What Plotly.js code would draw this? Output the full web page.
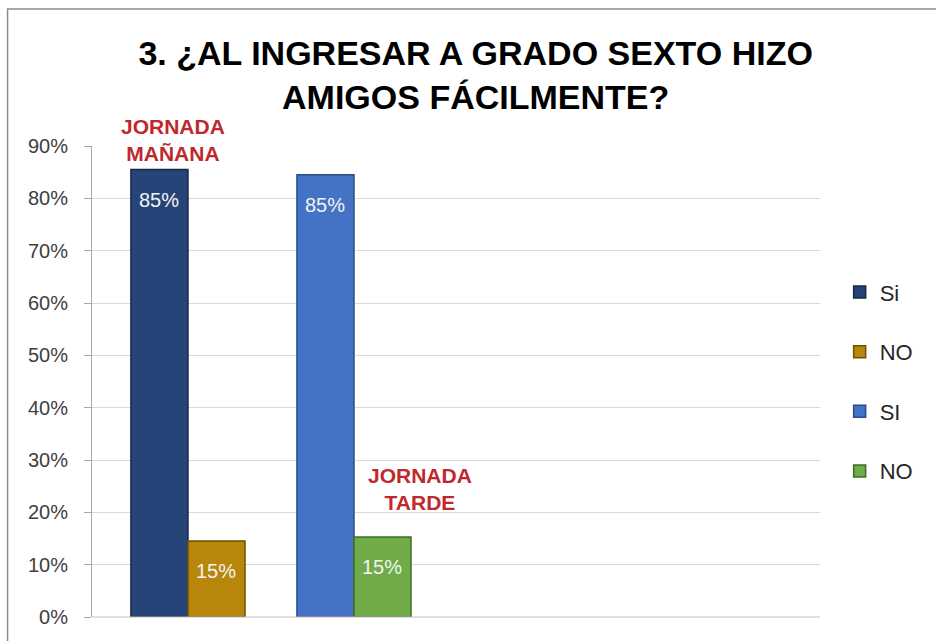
<!DOCTYPE html>
<html><head><meta charset="utf-8">
<script src="https://cdn.plot.ly/plotly-3.0.1.min.js"></script>
<style>html,body{margin:0;padding:0;background:#fff}#chart{width:936px;height:641px}</style>
</head><body><div id="chart"></div>
<script>
const categories = ["JORNADA MAÑANA", "JORNADA TARDE"];
const seriesNames = ["Si", "NO", "SI", "NO"];
const siManana = [0.855, null];
const noManana = [0.145, null];
const siTarde = [null, 0.845];
const noTarde = [null, 0.153];
const labelsSiManana = ["85%", ""];
const labelsNoManana = ["15%", ""];
const labelsSiTarde = ["", "85%"];
const labelsNoTarde = ["", "15%"];
const tickVals = [0, 0.1, 0.2, 0.3, 0.4, 0.5, 0.6, 0.7, 0.8, 0.9];
const tickText = ["0%", "10%", "20%", "30%", "40%", "50%", "60%", "70%", "80%", "90%"];

const colors = ["#264478", "#B8860B", "#4472C4", "#6FAB46"];
const edges = ["#142848", "#6E5006", "#284C8C", "#3F6E26"];
const seriesValues = [siManana, noManana, siTarde, noTarde];
const seriesLabels = [labelsSiManana, labelsNoManana, labelsSiTarde, labelsNoTarde];
const offsetGroups = ["a", "b", "a", "b"];

const data = seriesValues.map((y, i) => ({
  type: "bar", name: seriesNames[i], x: categories, y: y,
  offsetgroup: offsetGroups[i], legendgroup: "g" + i,
  marker: {color: colors[i], line: {color: edges[i], width: 1.5}},
  hoverinfo: "skip"
}));

// value labels placed at each bar's top, inside the bar
const labelAnns = [];
seriesValues.forEach((vals, i) => {
  vals.forEach((v, j) => {
    if (v === null || !seriesLabels[i][j]) return;
    labelAnns.push({
      xref: "x", yref: "y", x: categories[j], y: v,
      xshift: offsetGroups[i] === "a" ? -28.5 : 28.5, yshift: -17,
      xanchor: "center", yanchor: "top", showarrow: false,
      text: seriesLabels[i][j],
      font: {family: "Liberation Sans, Arial, sans-serif", size: 20, color: "#F4F4F4"}
    });
  });
});

const layout = {
  width: 936, height: 641,
  margin: {l: 92, r: 116, t: 146, b: 24},
  paper_bgcolor: "#fff", plot_bgcolor: "#fff",
  barmode: "group", bargap: 0.313, bargroupgap: 0,
  showlegend: true,
  legend: {x: 1.027, y: 0.734, xanchor: "left", yanchor: "top",
    font: {family: "Liberation Sans, Arial, sans-serif", size: 22, color: "#262626"},
    tracegroupgap: 28, itemwidth: 30},
  title: {text: "<b>3. ¿AL INGRESAR A GRADO SEXTO HIZO<br>AMIGOS FÁCILMENTE?</b>",
    x: 0.527, xref: "paper", xanchor: "center", yref: "container", y: 0.8985, yanchor: "middle",
    font: {family: "Liberation Sans, Arial, sans-serif", size: 34, color: "#000"}},
  xaxis: {type: "category", range: [-0.578, 3.807], showticklabels: false, ticks: "",
    showgrid: false, zeroline: false, showline: false},
  yaxis: {range: [0, 0.9], tickvals: tickVals, ticktext: tickText,
    tickfont: {family: "Liberation Sans, Arial, sans-serif", size: 20, color: "#404040"},
    ticks: "outside", ticklen: 7, tickcolor: "#A6A6A6", ticklabelstandoff: 12,
    showgrid: true, gridcolor: "#D9D9D9", gridwidth: 1,
    showline: true, linecolor: "#A6A6A6", linewidth: 1, zeroline: false, fixedrange: true},
  shapes: [
    {type: "line", xref: "paper", yref: "paper", x0: 0, x1: 1, y0: 0, y1: 0, line: {color: "#BFBFBF", width: 1}},
    {type: "rect", xref: "paper", yref: "paper", x0: -0.116, x1: 1.2, y0: -0.2, y1: 1.291, line: {color: "#8C8C8C", width: 1.5}, layer: "below"}
  ],
  annotations: [
    {xref: "paper", yref: "paper", x: 0.111, y: 0.956, xanchor: "center", yanchor: "bottom", showarrow: false,
      text: "<b>JORNADA<br>MAÑANA</b>", font: {family: "Liberation Sans, Arial, sans-serif", size: 21, color: "#C0282D"}},
    {xref: "paper", yref: "paper", x: 0.45, y: 0.215, xanchor: "center", yanchor: "bottom", showarrow: false,
      text: "<b>JORNADA<br>TARDE</b>", font: {family: "Liberation Sans, Arial, sans-serif", size: 21, color: "#C0282D"}}
  ].concat(labelAnns)
};
Plotly.newPlot("chart", data, layout, {displayModeBar: false, staticPlot: true});
</script></body></html>
